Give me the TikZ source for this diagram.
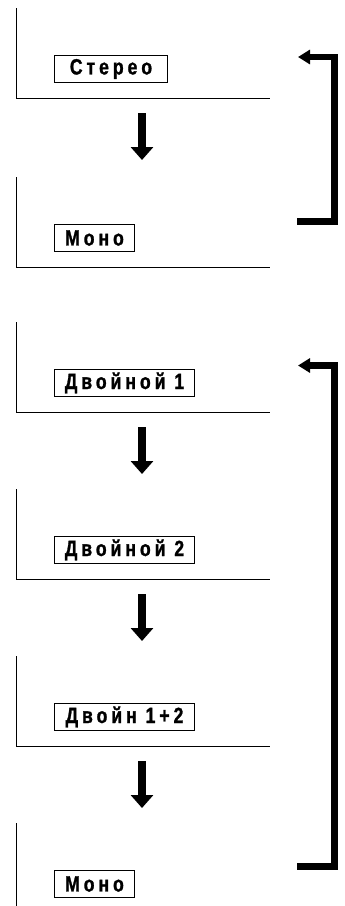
\documentclass[tikz,border=0pt]{standalone}
\usepackage{fontspec}
\setmainfont{Liberation Sans}
\newfontfamily\lblfont{Liberation Sans Bold}[FakeStretch=0.8,FakeBold=1.2,LetterSpace=18]
\usetikzlibrary{arrows.meta}

\begin{document}
\begin{tikzpicture}[x=1pt,y=-1pt,line width=1pt,line join=miter,
  lbl/.style={draw,line width=1pt,minimum height=27pt,inner sep=0pt,
    font=\lblfont\fontsize{22}{22}\selectfont},
  down/.style={line width=8pt,-{Triangle[width=22pt,length=13pt]}},
  back/.style={line width=6.5pt,-{Triangle[width=14pt,length=12pt]}}]
\path[use as bounding box,clip] (0,0) rectangle (345,906);
\foreach \n/\y/\w/\t in {1/8/113/Стерео,2/177/80/Моно,3/322/140/Двойной 1,4/489/140/Двойной 2,5/656/140/Двойн 1+2,6/823/80/Моно}{
 \draw (16.5,\y)--(16.5,\y+90)--(270,\y+90);
 \node[lbl,minimum width=\w pt,anchor=north west] (b\n) at (54,\y+47) {\t};
 \coordinate (s\n) at (142,\y+105);\coordinate (e\n) at (142,\y+152);
}
\foreach \n in {1,3,4,5}{\draw[down] (s\n)--(e\n);}
% return brackets
\coordinate (top1) at (298,57);\coordinate (cor1) at (334.5,57);\coordinate (bot1) at (297,221.5);
\coordinate (top2) at (298,365.5);\coordinate (cor2) at (334.5,365.5);\coordinate (bot2) at (297,866.5);
\draw[back] (bot1)--(bot1-|cor1)--(cor1)--(top1);
\draw[back] (bot2)--(bot2-|cor2)--(cor2)--(top2);
\end{tikzpicture}
\end{document}
